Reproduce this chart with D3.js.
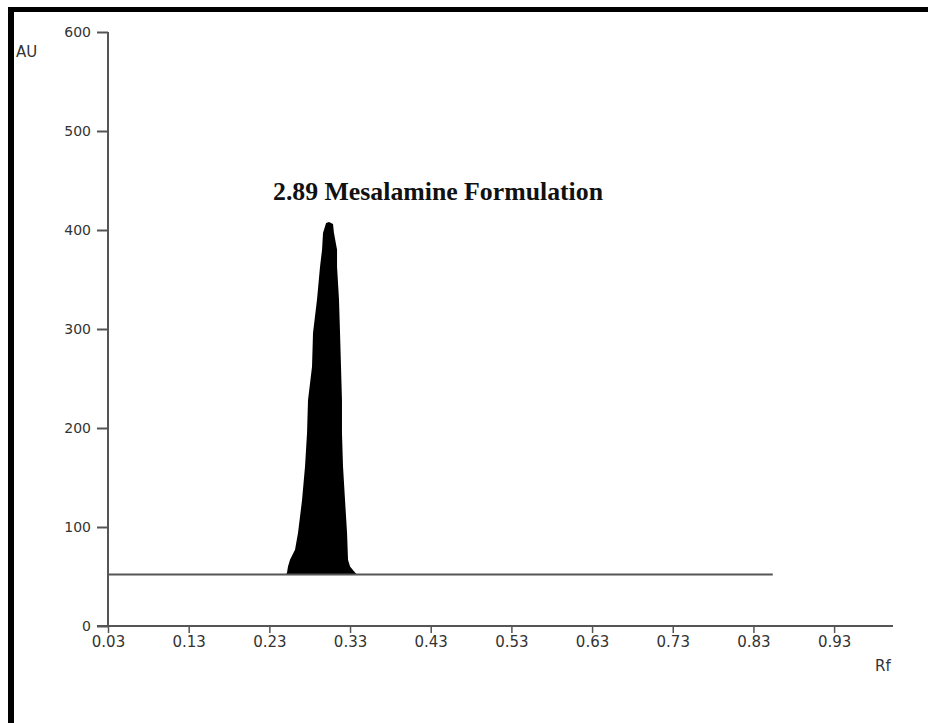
<!DOCTYPE html>
<html>
<head>
<meta charset="utf-8">
<script src="https://cdn.jsdelivr.net/npm/d3@7"></script>
<style>
  body { margin: 0; background: #fff; }
  svg { display: block; }
</style>
</head>
<body>
<div class="chart"></div>
<script>
// peak outline (Rf, AU)
var peakRf = [0.2507, 0.2519, 0.2531, 0.2556, 0.2618, 0.2655, 0.2705, 0.2742, 0.2767, 0.2779,
  0.2829, 0.2841, 0.2891, 0.2928, 0.2953, 0.2965, 0.3003, 0.3040, 0.3089, 0.3101,
  0.3139, 0.3139, 0.3163, 0.3176, 0.3188, 0.3200, 0.3200, 0.3213, 0.3238, 0.3263,
  0.3275, 0.3300, 0.3362, 0.3387];
var peakAU = [52, 54, 60, 67, 77, 94, 127, 161, 195, 228,
  262, 296, 330, 363, 380, 397, 407, 408, 406, 397,
  380, 363, 330, 296, 262, 228, 195, 161, 127, 94,
  67, 60, 54, 52];
var baselineRf = [0.03, 0.854];
var baselineAU = 52;
var xTicks = [0.03, 0.13, 0.23, 0.33, 0.43, 0.53, 0.63, 0.73, 0.83, 0.93];
var yTicks = [0, 100, 200, 300, 400, 500, 600];
var title = "2.89 Mesalamine Formulation";

var width = 928, height = 723;
var sans = 'DejaVu Sans, Verdana, sans-serif';

var svg = d3.select('.chart')
  .append('svg')
  .attr('width', width)
  .attr('height', height);

// frame (top and left edges only visible)
svg.append('line').attr('x1', 8).attr('x2', width).attr('y1', 9.5).attr('y2', 9.5)
  .attr('stroke', '#000').attr('stroke-width', 5);
svg.append('line').attr('x1', 11).attr('x2', 11).attr('y1', 7).attr('y2', height)
  .attr('stroke', '#000').attr('stroke-width', 6);

var x = d3.scaleLinear().domain([0.03, 1.003]).range([108, 893]);
var y = d3.scaleLinear().domain([0, 600]).range([626, 32]);

var grey = '#555';

// peak fill
var area = d3.area()
  .x(function (d, i) { return x(peakRf[i]); })
  .y0(y(baselineAU))
  .y1(function (d) { return y(d); });

svg.append('path')
  .attr('d', area(peakAU))
  .attr('fill', '#000');

// baseline
svg.append('line')
  .attr('x1', x(baselineRf[0])).attr('x2', x(baselineRf[1]))
  .attr('y1', y(baselineAU)).attr('y2', y(baselineAU))
  .attr('stroke', grey).attr('stroke-width', 2);

// Y axis
var yAxis = d3.axisLeft(y).tickValues(yTicks).tickSize(11).tickPadding(6);
var gy = svg.append('g')
  .attr('transform', 'translate(108,0)')
  .call(yAxis);
gy.select('.domain').attr('stroke', grey).attr('stroke-width', 2).attr('d', 'M0,32V626');
gy.selectAll('.tick line').attr('stroke', grey).attr('stroke-width', 2);
gy.selectAll('.tick text')
  .attr('font-family', sans)
  .attr('font-size', 14).attr('fill', '#333');

// X axis
var xAxis = d3.axisBottom(x).tickValues(xTicks).tickSize(7).tickPadding(3)
  .tickFormat(d3.format('.2f'));
var gx = svg.append('g')
  .attr('transform', 'translate(0,626)')
  .call(xAxis);
gx.select('.domain').attr('stroke', grey).attr('stroke-width', 2).attr('d', 'M97,0H893');
gx.selectAll('.tick line').attr('stroke', grey).attr('stroke-width', 1.5);
gx.selectAll('.tick text')
  .attr('font-family', sans)
  .attr('font-size', 15).attr('fill', '#333');

// axis titles
svg.append('text').attr('x', 16).attr('y', 57).text('AU')
  .attr('font-family', sans)
  .attr('font-size', 15).attr('fill', '#333');
svg.append('text').attr('x', 875).attr('y', 671).text('Rf')
  .attr('font-family', sans)
  .attr('font-size', 15).attr('fill', '#333');

// peak label
svg.append('text')
  .attr('x', 273).attr('y', 200)
  .attr('font-family', 'Liberation Serif, Times New Roman, serif')
  .attr('font-weight', 'bold')
  .attr('font-size', 25)
  .attr('textLength', 330)
  .attr('lengthAdjust', 'spacingAndGlyphs')
  .attr('fill', '#111')
  .text(title);
</script>
</body>
</html>
